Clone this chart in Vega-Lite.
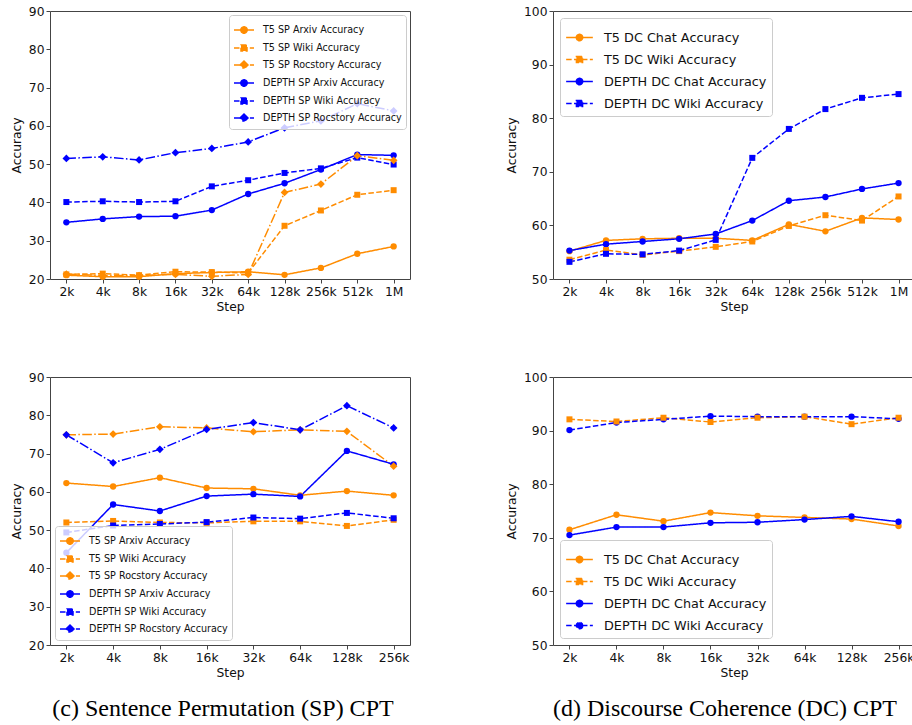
{
  "$schema": "https://vega.github.io/schema/vega-lite/v6.json",
  "padding": {"left": 9, "top": 4, "right": 0, "bottom": 0},
  "autosize": {"type": "pad"},
  "background": "white",
  "datasets": {
    "p1": [
      {"step":"2k","series":"T5 SP Arxiv Accuracy","acc":21.0},{"step":"4k","series":"T5 SP Arxiv Accuracy","acc":20.6},{"step":"8k","series":"T5 SP Arxiv Accuracy","acc":20.6},{"step":"16k","series":"T5 SP Arxiv Accuracy","acc":21.4},{"step":"32k","series":"T5 SP Arxiv Accuracy","acc":21.7},{"step":"64k","series":"T5 SP Arxiv Accuracy","acc":21.9},{"step":"128k","series":"T5 SP Arxiv Accuracy","acc":21.1},{"step":"256k","series":"T5 SP Arxiv Accuracy","acc":22.9},{"step":"512k","series":"T5 SP Arxiv Accuracy","acc":26.6},{"step":"1M","series":"T5 SP Arxiv Accuracy","acc":28.5},
      {"step":"2k","series":"T5 SP Wiki Accuracy","acc":21.2},{"step":"4k","series":"T5 SP Wiki Accuracy","acc":21.4},{"step":"8k","series":"T5 SP Wiki Accuracy","acc":21.0},{"step":"16k","series":"T5 SP Wiki Accuracy","acc":21.9},{"step":"32k","series":"T5 SP Wiki Accuracy","acc":21.8},{"step":"64k","series":"T5 SP Wiki Accuracy","acc":21.6},{"step":"128k","series":"T5 SP Wiki Accuracy","acc":33.9},{"step":"256k","series":"T5 SP Wiki Accuracy","acc":37.9},{"step":"512k","series":"T5 SP Wiki Accuracy","acc":42.0},{"step":"1M","series":"T5 SP Wiki Accuracy","acc":43.2},
      {"step":"2k","series":"T5 SP Rocstory Accuracy","acc":21.3},{"step":"4k","series":"T5 SP Rocstory Accuracy","acc":20.9},{"step":"8k","series":"T5 SP Rocstory Accuracy","acc":20.9},{"step":"16k","series":"T5 SP Rocstory Accuracy","acc":21.2},{"step":"32k","series":"T5 SP Rocstory Accuracy","acc":20.7},{"step":"64k","series":"T5 SP Rocstory Accuracy","acc":21.2},{"step":"128k","series":"T5 SP Rocstory Accuracy","acc":42.6},{"step":"256k","series":"T5 SP Rocstory Accuracy","acc":44.8},{"step":"512k","series":"T5 SP Rocstory Accuracy","acc":52.2},{"step":"1M","series":"T5 SP Rocstory Accuracy","acc":51.0},
      {"step":"2k","series":"DEPTH SP Arxiv Accuracy","acc":34.8},{"step":"4k","series":"DEPTH SP Arxiv Accuracy","acc":35.7},{"step":"8k","series":"DEPTH SP Arxiv Accuracy","acc":36.3},{"step":"16k","series":"DEPTH SP Arxiv Accuracy","acc":36.4},{"step":"32k","series":"DEPTH SP Arxiv Accuracy","acc":38.0},{"step":"64k","series":"DEPTH SP Arxiv Accuracy","acc":42.2},{"step":"128k","series":"DEPTH SP Arxiv Accuracy","acc":45.0},{"step":"256k","series":"DEPTH SP Arxiv Accuracy","acc":48.6},{"step":"512k","series":"DEPTH SP Arxiv Accuracy","acc":52.5},{"step":"1M","series":"DEPTH SP Arxiv Accuracy","acc":52.3},
      {"step":"2k","series":"DEPTH SP Wiki Accuracy","acc":40.1},{"step":"4k","series":"DEPTH SP Wiki Accuracy","acc":40.3},{"step":"8k","series":"DEPTH SP Wiki Accuracy","acc":40.1},{"step":"16k","series":"DEPTH SP Wiki Accuracy","acc":40.3},{"step":"32k","series":"DEPTH SP Wiki Accuracy","acc":44.2},{"step":"64k","series":"DEPTH SP Wiki Accuracy","acc":45.8},{"step":"128k","series":"DEPTH SP Wiki Accuracy","acc":47.7},{"step":"256k","series":"DEPTH SP Wiki Accuracy","acc":48.9},{"step":"512k","series":"DEPTH SP Wiki Accuracy","acc":51.7},{"step":"1M","series":"DEPTH SP Wiki Accuracy","acc":49.9},
      {"step":"2k","series":"DEPTH SP Rocstory Accuracy","acc":51.5},{"step":"4k","series":"DEPTH SP Rocstory Accuracy","acc":51.9},{"step":"8k","series":"DEPTH SP Rocstory Accuracy","acc":51.1},{"step":"16k","series":"DEPTH SP Rocstory Accuracy","acc":53.0},{"step":"32k","series":"DEPTH SP Rocstory Accuracy","acc":54.1},{"step":"64k","series":"DEPTH SP Rocstory Accuracy","acc":55.8},{"step":"128k","series":"DEPTH SP Rocstory Accuracy","acc":59.5},{"step":"256k","series":"DEPTH SP Rocstory Accuracy","acc":61.3},{"step":"512k","series":"DEPTH SP Rocstory Accuracy","acc":65.8},{"step":"1M","series":"DEPTH SP Rocstory Accuracy","acc":63.9}
    ],
    "p2": [
      {"step":"2k","series":"T5 DC Chat Accuracy","acc":55.2},{"step":"4k","series":"T5 DC Chat Accuracy","acc":57.2},{"step":"8k","series":"T5 DC Chat Accuracy","acc":57.5},{"step":"16k","series":"T5 DC Chat Accuracy","acc":57.6},{"step":"32k","series":"T5 DC Chat Accuracy","acc":57.6},{"step":"64k","series":"T5 DC Chat Accuracy","acc":57.2},{"step":"128k","series":"T5 DC Chat Accuracy","acc":60.2},{"step":"256k","series":"T5 DC Chat Accuracy","acc":58.9},{"step":"512k","series":"T5 DC Chat Accuracy","acc":61.4},{"step":"1M","series":"T5 DC Chat Accuracy","acc":61.1},
      {"step":"2k","series":"T5 DC Wiki Accuracy","acc":53.6},{"step":"4k","series":"T5 DC Wiki Accuracy","acc":55.4},{"step":"8k","series":"T5 DC Wiki Accuracy","acc":54.5},{"step":"16k","series":"T5 DC Wiki Accuracy","acc":55.2},{"step":"32k","series":"T5 DC Wiki Accuracy","acc":56.0},{"step":"64k","series":"T5 DC Wiki Accuracy","acc":57.0},{"step":"128k","series":"T5 DC Wiki Accuracy","acc":59.9},{"step":"256k","series":"T5 DC Wiki Accuracy","acc":61.9},{"step":"512k","series":"T5 DC Wiki Accuracy","acc":60.9},{"step":"1M","series":"T5 DC Wiki Accuracy","acc":65.4},
      {"step":"2k","series":"DEPTH DC Chat Accuracy","acc":55.3},{"step":"4k","series":"DEPTH DC Chat Accuracy","acc":56.5},{"step":"8k","series":"DEPTH DC Chat Accuracy","acc":57.0},{"step":"16k","series":"DEPTH DC Chat Accuracy","acc":57.5},{"step":"32k","series":"DEPTH DC Chat Accuracy","acc":58.4},{"step":"64k","series":"DEPTH DC Chat Accuracy","acc":60.9},{"step":"128k","series":"DEPTH DC Chat Accuracy","acc":64.6},{"step":"256k","series":"DEPTH DC Chat Accuracy","acc":65.3},{"step":"512k","series":"DEPTH DC Chat Accuracy","acc":66.8},{"step":"1M","series":"DEPTH DC Chat Accuracy","acc":67.9},
      {"step":"2k","series":"DEPTH DC Wiki Accuracy","acc":53.2},{"step":"4k","series":"DEPTH DC Wiki Accuracy","acc":54.7},{"step":"8k","series":"DEPTH DC Wiki Accuracy","acc":54.6},{"step":"16k","series":"DEPTH DC Wiki Accuracy","acc":55.3},{"step":"32k","series":"DEPTH DC Wiki Accuracy","acc":57.3},{"step":"64k","series":"DEPTH DC Wiki Accuracy","acc":72.6},{"step":"128k","series":"DEPTH DC Wiki Accuracy","acc":78.0},{"step":"256k","series":"DEPTH DC Wiki Accuracy","acc":81.7},{"step":"512k","series":"DEPTH DC Wiki Accuracy","acc":83.8},{"step":"1M","series":"DEPTH DC Wiki Accuracy","acc":84.5}
    ],
    "p3": [
      {"step":"2k","series":"T5 SP Arxiv Accuracy","acc":62.3},{"step":"4k","series":"T5 SP Arxiv Accuracy","acc":61.4},{"step":"8k","series":"T5 SP Arxiv Accuracy","acc":63.7},{"step":"16k","series":"T5 SP Arxiv Accuracy","acc":61.0},{"step":"32k","series":"T5 SP Arxiv Accuracy","acc":60.8},{"step":"64k","series":"T5 SP Arxiv Accuracy","acc":59.1},{"step":"128k","series":"T5 SP Arxiv Accuracy","acc":60.2},{"step":"256k","series":"T5 SP Arxiv Accuracy","acc":59.1},
      {"step":"2k","series":"T5 SP Wiki Accuracy","acc":52.0},{"step":"4k","series":"T5 SP Wiki Accuracy","acc":52.4},{"step":"8k","series":"T5 SP Wiki Accuracy","acc":52.0},{"step":"16k","series":"T5 SP Wiki Accuracy","acc":51.9},{"step":"32k","series":"T5 SP Wiki Accuracy","acc":52.3},{"step":"64k","series":"T5 SP Wiki Accuracy","acc":52.3},{"step":"128k","series":"T5 SP Wiki Accuracy","acc":51.1},{"step":"256k","series":"T5 SP Wiki Accuracy","acc":52.7},
      {"step":"2k","series":"T5 SP Rocstory Accuracy","acc":74.9},{"step":"4k","series":"T5 SP Rocstory Accuracy","acc":75.1},{"step":"8k","series":"T5 SP Rocstory Accuracy","acc":77.0},{"step":"16k","series":"T5 SP Rocstory Accuracy","acc":76.7},{"step":"32k","series":"T5 SP Rocstory Accuracy","acc":75.7},{"step":"64k","series":"T5 SP Rocstory Accuracy","acc":76.2},{"step":"128k","series":"T5 SP Rocstory Accuracy","acc":75.8},{"step":"256k","series":"T5 SP Rocstory Accuracy","acc":66.7},
      {"step":"2k","series":"DEPTH SP Arxiv Accuracy","acc":44.1},{"step":"4k","series":"DEPTH SP Arxiv Accuracy","acc":56.7},{"step":"8k","series":"DEPTH SP Arxiv Accuracy","acc":55.0},{"step":"16k","series":"DEPTH SP Arxiv Accuracy","acc":58.9},{"step":"32k","series":"DEPTH SP Arxiv Accuracy","acc":59.4},{"step":"64k","series":"DEPTH SP Arxiv Accuracy","acc":58.8},{"step":"128k","series":"DEPTH SP Arxiv Accuracy","acc":70.7},{"step":"256k","series":"DEPTH SP Arxiv Accuracy","acc":67.2},
      {"step":"2k","series":"DEPTH SP Wiki Accuracy","acc":49.4},{"step":"4k","series":"DEPTH SP Wiki Accuracy","acc":51.2},{"step":"8k","series":"DEPTH SP Wiki Accuracy","acc":51.6},{"step":"16k","series":"DEPTH SP Wiki Accuracy","acc":52.1},{"step":"32k","series":"DEPTH SP Wiki Accuracy","acc":53.3},{"step":"64k","series":"DEPTH SP Wiki Accuracy","acc":53.0},{"step":"128k","series":"DEPTH SP Wiki Accuracy","acc":54.5},{"step":"256k","series":"DEPTH SP Wiki Accuracy","acc":53.1},
      {"step":"2k","series":"DEPTH SP Rocstory Accuracy","acc":74.9},{"step":"4k","series":"DEPTH SP Rocstory Accuracy","acc":67.6},{"step":"8k","series":"DEPTH SP Rocstory Accuracy","acc":71.1},{"step":"16k","series":"DEPTH SP Rocstory Accuracy","acc":76.3},{"step":"32k","series":"DEPTH SP Rocstory Accuracy","acc":78.1},{"step":"64k","series":"DEPTH SP Rocstory Accuracy","acc":76.2},{"step":"128k","series":"DEPTH SP Rocstory Accuracy","acc":82.5},{"step":"256k","series":"DEPTH SP Rocstory Accuracy","acc":76.7}
    ],
    "p4": [
      {"step":"2k","series":"T5 DC Chat Accuracy","acc":71.5},{"step":"4k","series":"T5 DC Chat Accuracy","acc":74.3},{"step":"8k","series":"T5 DC Chat Accuracy","acc":73.1},{"step":"16k","series":"T5 DC Chat Accuracy","acc":74.7},{"step":"32k","series":"T5 DC Chat Accuracy","acc":74.1},{"step":"64k","series":"T5 DC Chat Accuracy","acc":73.8},{"step":"128k","series":"T5 DC Chat Accuracy","acc":73.5},{"step":"256k","series":"T5 DC Chat Accuracy","acc":72.2},
      {"step":"2k","series":"T5 DC Wiki Accuracy","acc":92.1},{"step":"4k","series":"T5 DC Wiki Accuracy","acc":91.7},{"step":"8k","series":"T5 DC Wiki Accuracy","acc":92.4},{"step":"16k","series":"T5 DC Wiki Accuracy","acc":91.6},{"step":"32k","series":"T5 DC Wiki Accuracy","acc":92.4},{"step":"64k","series":"T5 DC Wiki Accuracy","acc":92.6},{"step":"128k","series":"T5 DC Wiki Accuracy","acc":91.2},{"step":"256k","series":"T5 DC Wiki Accuracy","acc":92.4},
      {"step":"2k","series":"DEPTH DC Chat Accuracy","acc":70.5},{"step":"4k","series":"DEPTH DC Chat Accuracy","acc":72.0},{"step":"8k","series":"DEPTH DC Chat Accuracy","acc":72.0},{"step":"16k","series":"DEPTH DC Chat Accuracy","acc":72.8},{"step":"32k","series":"DEPTH DC Chat Accuracy","acc":72.9},{"step":"64k","series":"DEPTH DC Chat Accuracy","acc":73.4},{"step":"128k","series":"DEPTH DC Chat Accuracy","acc":74.0},{"step":"256k","series":"DEPTH DC Chat Accuracy","acc":73.0},
      {"step":"2k","series":"DEPTH DC Wiki Accuracy","acc":90.1},{"step":"4k","series":"DEPTH DC Wiki Accuracy","acc":91.5},{"step":"8k","series":"DEPTH DC Wiki Accuracy","acc":92.1},{"step":"16k","series":"DEPTH DC Wiki Accuracy","acc":92.7},{"step":"32k","series":"DEPTH DC Wiki Accuracy","acc":92.6},{"step":"64k","series":"DEPTH DC Wiki Accuracy","acc":92.6},{"step":"128k","series":"DEPTH DC Wiki Accuracy","acc":92.6},{"step":"256k","series":"DEPTH DC Wiki Accuracy","acc":92.2}
    ]
  },
  "columns": 2,
  "spacing": {"row": 56, "column": 94},
  "resolve": {
    "scale": {"x": "independent", "y": "independent", "color": "independent", "fill": "independent", "stroke": "independent", "strokeDash": "independent", "shape": "independent"},
    "legend": {"color": "independent", "fill": "independent", "stroke": "independent", "strokeDash": "independent", "shape": "independent"}
  },
  "concat": [
    {
      "width": 360, "height": 268,
      "data": {"name": "p1"},
      "encoding": {
        "x": {"field": "step", "type": "ordinal", "scale": {"type": "point", "domain": ["2k","4k","8k","16k","32k","64k","128k","256k","512k","1M"], "padding": 0.45}, "axis": {"title": "Step", "labelAngle": 0}},
        "y": {"field": "acc", "type": "quantitative", "scale": {"domain": [20, 90], "nice": false, "zero": false}, "axis": {"title": "Accuracy", "values": [20,30,40,50,60,70,80,90]}}
      },
      "layer": [
        {
          "transform": [{"filter": "false"}],
          "mark": {"type": "point", "filled": true, "opacity": 1, "strokeWidth": 1.5},
          "encoding": {
            "fill": {"field": "series", "type": "nominal", "scale": {"domain": ["T5 SP Arxiv Accuracy","T5 SP Wiki Accuracy","T5 SP Rocstory Accuracy","DEPTH SP Arxiv Accuracy","DEPTH SP Wiki Accuracy","DEPTH SP Rocstory Accuracy"], "range": ["#ff8c00","#ff8c00","#ff8c00","#0000ff","#0000ff","#0000ff"]},
              "legend": {"title": null, "orient": "top-right", "offset": 4, "padding": 4, "rowPadding": -4, "labelFontSize": 9.6, "labelFont": "DejaVu Sans", "labelColor": "#111", "labelLimit": 400, "symbolSize": 400, "symbolStrokeWidth": 1.5, "symbolOpacity": 1, "labelOffset": 8, "strokeColor": "#cccccc", "fillColor": "rgba(255,255,255,0.8)", "cornerRadius": 3}},
            "stroke": {"field": "series", "type": "nominal", "scale": {"domain": ["T5 SP Arxiv Accuracy","T5 SP Wiki Accuracy","T5 SP Rocstory Accuracy","DEPTH SP Arxiv Accuracy","DEPTH SP Wiki Accuracy","DEPTH SP Rocstory Accuracy"], "range": ["#ff8c00","#ff8c00","#ff8c00","#0000ff","#0000ff","#0000ff"]},
              "legend": {"title": null, "orient": "top-right", "offset": 4, "padding": 4, "rowPadding": -4, "labelFontSize": 9.6, "labelFont": "DejaVu Sans", "labelColor": "#111", "labelLimit": 400, "symbolSize": 400, "symbolStrokeWidth": 1.5, "symbolOpacity": 1, "labelOffset": 8, "strokeColor": "#cccccc", "fillColor": "rgba(255,255,255,0.8)", "cornerRadius": 3}},
            "shape": {"field": "series", "type": "nominal", "scale": {"domain": ["T5 SP Arxiv Accuracy","T5 SP Wiki Accuracy","T5 SP Rocstory Accuracy","DEPTH SP Arxiv Accuracy","DEPTH SP Wiki Accuracy","DEPTH SP Rocstory Accuracy"], "range": ["M-1,0H1M0.32,0A0.32,0.32,0,1,1,-0.32,0A0.32,0.32,0,1,1,0.32,0Z","M-1,0H1M-0.3,-0.3H0.3V0.3H-0.3Z","M-1,0H1M0,-0.4L0.4,0L0,0.4L-0.4,0Z","M-1,0H1M0.32,0A0.32,0.32,0,1,1,-0.32,0A0.32,0.32,0,1,1,0.32,0Z","M-1,0H1M-0.3,-0.3H0.3V0.3H-0.3Z","M-1,0H1M0,-0.4L0.4,0L0,0.4L-0.4,0Z"]},
              "legend": {"title": null, "orient": "top-right", "offset": 4, "padding": 4, "rowPadding": -4, "labelFontSize": 9.6, "labelFont": "DejaVu Sans", "labelColor": "#111", "labelLimit": 400, "symbolSize": 400, "symbolStrokeWidth": 1.5, "symbolOpacity": 1, "labelOffset": 8, "strokeColor": "#cccccc", "fillColor": "rgba(255,255,255,0.8)", "cornerRadius": 3}},
            "strokeDash": {"field": "series", "type": "nominal", "scale": {"domain": ["T5 SP Arxiv Accuracy","T5 SP Wiki Accuracy","T5 SP Rocstory Accuracy","DEPTH SP Arxiv Accuracy","DEPTH SP Wiki Accuracy","DEPTH SP Rocstory Accuracy"], "range": [[1,0],[5.5,2.4],[9.6,2.4,1.5,2.4],[1,0],[5.5,2.4],[9.6,2.4,1.5,2.4]]},
              "legend": {"title": null, "orient": "top-right", "offset": 4, "padding": 4, "rowPadding": -4, "labelFontSize": 9.6, "labelFont": "DejaVu Sans", "labelColor": "#111", "labelLimit": 400, "symbolSize": 400, "symbolStrokeWidth": 1.5, "symbolOpacity": 1, "labelOffset": 8, "strokeColor": "#cccccc", "fillColor": "rgba(255,255,255,0.8)", "cornerRadius": 3}}
          }
        },
        {
          "mark": {"type": "line", "strokeWidth": 1.5},
          "encoding": {
            "color": {"field": "series", "type": "nominal", "scale": {"domain": ["T5 SP Arxiv Accuracy","T5 SP Wiki Accuracy","T5 SP Rocstory Accuracy","DEPTH SP Arxiv Accuracy","DEPTH SP Wiki Accuracy","DEPTH SP Rocstory Accuracy"], "range": ["#ff8c00","#ff8c00","#ff8c00","#0000ff","#0000ff","#0000ff"]}, "legend": null},
            "strokeDash": {"field": "series", "type": "nominal", "legend": null}
          }
        },
        {"transform": [{"filter": "indexof(datum.series,'Arxiv')>=0"}], "mark": {"type": "point", "filled": true, "opacity": 1, "shape": "circle", "size": 40}, "encoding": {"color": {"field": "series", "type": "nominal", "legend": null}}},
        {"transform": [{"filter": "indexof(datum.series,'Wiki')>=0"}], "mark": {"type": "point", "filled": true, "opacity": 1, "shape": "square", "size": 36}, "encoding": {"color": {"field": "series", "type": "nominal", "legend": null}}},
        {"transform": [{"filter": "indexof(datum.series,'Rocstory')>=0"}], "mark": {"type": "point", "filled": true, "opacity": 1, "shape": "diamond", "size": 60}, "encoding": {"color": {"field": "series", "type": "nominal", "legend": null}}}
      ]
    },
    {
      "width": 362, "height": 268,
      "data": {"name": "p2"},
      "encoding": {
        "x": {"field": "step", "type": "ordinal", "scale": {"type": "point", "domain": ["2k","4k","8k","16k","32k","64k","128k","256k","512k","1M"], "padding": 0.45}, "axis": {"title": "Step", "labelAngle": 0}},
        "y": {"field": "acc", "type": "quantitative", "scale": {"domain": [50, 100], "nice": false, "zero": false}, "axis": {"title": "Accuracy", "values": [50,60,70,80,90,100]}}
      },
      "layer": [
        {
          "transform": [{"filter": "false"}],
          "mark": {"type": "point", "filled": true, "opacity": 1, "strokeWidth": 1.5},
          "encoding": {
            "fill": {"field": "series", "type": "nominal", "scale": {"domain": ["T5 DC Chat Accuracy","T5 DC Wiki Accuracy","DEPTH DC Chat Accuracy","DEPTH DC Wiki Accuracy"], "range": ["#ff8c00","#ff8c00","#0000ff","#0000ff"]},
              "legend": {"title": null, "orient": "top-left", "offset": 7, "padding": 5, "rowPadding": -2.3, "labelFontSize": 12.8, "labelFont": "DejaVu Sans", "labelColor": "#111", "labelLimit": 400, "symbolSize": 713, "symbolStrokeWidth": 1.5, "symbolOpacity": 1, "labelOffset": 10, "strokeColor": "#cccccc", "fillColor": "rgba(255,255,255,0.8)", "cornerRadius": 3}},
            "stroke": {"field": "series", "type": "nominal", "scale": {"domain": ["T5 DC Chat Accuracy","T5 DC Wiki Accuracy","DEPTH DC Chat Accuracy","DEPTH DC Wiki Accuracy"], "range": ["#ff8c00","#ff8c00","#0000ff","#0000ff"]},
              "legend": {"title": null, "orient": "top-left", "offset": 7, "padding": 5, "rowPadding": -2.3, "labelFontSize": 12.8, "labelFont": "DejaVu Sans", "labelColor": "#111", "labelLimit": 400, "symbolSize": 713, "symbolStrokeWidth": 1.5, "symbolOpacity": 1, "labelOffset": 10, "strokeColor": "#cccccc", "fillColor": "rgba(255,255,255,0.8)", "cornerRadius": 3}},
            "shape": {"field": "series", "type": "nominal", "scale": {"domain": ["T5 DC Chat Accuracy","T5 DC Wiki Accuracy","DEPTH DC Chat Accuracy","DEPTH DC Wiki Accuracy"], "range": ["M-1,0H1M0.24,0A0.24,0.24,0,1,1,-0.24,0A0.24,0.24,0,1,1,0.24,0Z","M-1,0H1M-0.23,-0.23H0.23V0.23H-0.23Z","M-1,0H1M0.24,0A0.24,0.24,0,1,1,-0.24,0A0.24,0.24,0,1,1,0.24,0Z","M-1,0H1M-0.23,-0.23H0.23V0.23H-0.23Z"]},
              "legend": {"title": null, "orient": "top-left", "offset": 7, "padding": 5, "rowPadding": -2.3, "labelFontSize": 12.8, "labelFont": "DejaVu Sans", "labelColor": "#111", "labelLimit": 400, "symbolSize": 713, "symbolStrokeWidth": 1.5, "symbolOpacity": 1, "labelOffset": 10, "strokeColor": "#cccccc", "fillColor": "rgba(255,255,255,0.8)", "cornerRadius": 3}},
            "strokeDash": {"field": "series", "type": "nominal", "scale": {"domain": ["T5 DC Chat Accuracy","T5 DC Wiki Accuracy","DEPTH DC Chat Accuracy","DEPTH DC Wiki Accuracy"], "range": [[1,0],[5.5,2.4],[1,0],[5.5,2.4]]},
              "legend": {"title": null, "orient": "top-left", "offset": 7, "padding": 5, "rowPadding": -2.3, "labelFontSize": 12.8, "labelFont": "DejaVu Sans", "labelColor": "#111", "labelLimit": 400, "symbolSize": 713, "symbolStrokeWidth": 1.5, "symbolOpacity": 1, "labelOffset": 10, "strokeColor": "#cccccc", "fillColor": "rgba(255,255,255,0.8)", "cornerRadius": 3}}
          }
        },
        {
          "mark": {"type": "line", "strokeWidth": 1.5},
          "encoding": {
            "color": {"field": "series", "type": "nominal", "scale": {"domain": ["T5 DC Chat Accuracy","T5 DC Wiki Accuracy","DEPTH DC Chat Accuracy","DEPTH DC Wiki Accuracy"], "range": ["#ff8c00","#ff8c00","#0000ff","#0000ff"]}, "legend": null},
            "strokeDash": {"field": "series", "type": "nominal", "legend": null}
          }
        },
        {"transform": [{"filter": "indexof(datum.series,'Chat')>=0"}], "mark": {"type": "point", "filled": true, "opacity": 1, "shape": "circle", "size": 40}, "encoding": {"color": {"field": "series", "type": "nominal", "legend": null}}},
        {"transform": [{"filter": "indexof(datum.series,'Wiki')>=0"}], "mark": {"type": "point", "filled": true, "opacity": 1, "shape": "square", "size": 36}, "encoding": {"color": {"field": "series", "type": "nominal", "legend": null}}}
      ]
    },
    {
      "width": 360, "height": 268,
      "data": {"name": "p3"},
      "title": {"text": "(c) Sentence Permutation (SP) CPT", "orient": "bottom", "font": "Liberation Serif", "fontSize": 24, "fontWeight": "normal", "color": "#000", "offset": 18, "anchor": "middle", "frame": "group", "dx": -7},
      "encoding": {
        "x": {"field": "step", "type": "ordinal", "scale": {"type": "point", "domain": ["2k","4k","8k","16k","32k","64k","128k","256k"], "padding": 0.35}, "axis": {"title": "Step", "labelAngle": 0}},
        "y": {"field": "acc", "type": "quantitative", "scale": {"domain": [20, 90], "nice": false, "zero": false}, "axis": {"title": "Accuracy", "values": [20,30,40,50,60,70,80,90]}}
      },
      "layer": [
        {
          "transform": [{"filter": "false"}],
          "mark": {"type": "point", "filled": true, "opacity": 1, "strokeWidth": 1.5},
          "encoding": {
            "fill": {"field": "series", "type": "nominal", "scale": {"domain": ["T5 SP Arxiv Accuracy","T5 SP Wiki Accuracy","T5 SP Rocstory Accuracy","DEPTH SP Arxiv Accuracy","DEPTH SP Wiki Accuracy","DEPTH SP Rocstory Accuracy"], "range": ["#ff8c00","#ff8c00","#ff8c00","#0000ff","#0000ff","#0000ff"]},
              "legend": {"title": null, "orient": "bottom-left", "offset": 5, "padding": 4, "rowPadding": -4, "labelFontSize": 9.6, "labelFont": "DejaVu Sans", "labelColor": "#111", "labelLimit": 400, "symbolSize": 400, "symbolStrokeWidth": 1.5, "symbolOpacity": 1, "labelOffset": 8, "strokeColor": "#cccccc", "fillColor": "rgba(255,255,255,0.8)", "cornerRadius": 3}},
            "stroke": {"field": "series", "type": "nominal", "scale": {"domain": ["T5 SP Arxiv Accuracy","T5 SP Wiki Accuracy","T5 SP Rocstory Accuracy","DEPTH SP Arxiv Accuracy","DEPTH SP Wiki Accuracy","DEPTH SP Rocstory Accuracy"], "range": ["#ff8c00","#ff8c00","#ff8c00","#0000ff","#0000ff","#0000ff"]},
              "legend": {"title": null, "orient": "bottom-left", "offset": 5, "padding": 4, "rowPadding": -4, "labelFontSize": 9.6, "labelFont": "DejaVu Sans", "labelColor": "#111", "labelLimit": 400, "symbolSize": 400, "symbolStrokeWidth": 1.5, "symbolOpacity": 1, "labelOffset": 8, "strokeColor": "#cccccc", "fillColor": "rgba(255,255,255,0.8)", "cornerRadius": 3}},
            "shape": {"field": "series", "type": "nominal", "scale": {"domain": ["T5 SP Arxiv Accuracy","T5 SP Wiki Accuracy","T5 SP Rocstory Accuracy","DEPTH SP Arxiv Accuracy","DEPTH SP Wiki Accuracy","DEPTH SP Rocstory Accuracy"], "range": ["M-1,0H1M0.32,0A0.32,0.32,0,1,1,-0.32,0A0.32,0.32,0,1,1,0.32,0Z","M-1,0H1M-0.3,-0.3H0.3V0.3H-0.3Z","M-1,0H1M0,-0.4L0.4,0L0,0.4L-0.4,0Z","M-1,0H1M0.32,0A0.32,0.32,0,1,1,-0.32,0A0.32,0.32,0,1,1,0.32,0Z","M-1,0H1M-0.3,-0.3H0.3V0.3H-0.3Z","M-1,0H1M0,-0.4L0.4,0L0,0.4L-0.4,0Z"]},
              "legend": {"title": null, "orient": "bottom-left", "offset": 5, "padding": 4, "rowPadding": -4, "labelFontSize": 9.6, "labelFont": "DejaVu Sans", "labelColor": "#111", "labelLimit": 400, "symbolSize": 400, "symbolStrokeWidth": 1.5, "symbolOpacity": 1, "labelOffset": 8, "strokeColor": "#cccccc", "fillColor": "rgba(255,255,255,0.8)", "cornerRadius": 3}},
            "strokeDash": {"field": "series", "type": "nominal", "scale": {"domain": ["T5 SP Arxiv Accuracy","T5 SP Wiki Accuracy","T5 SP Rocstory Accuracy","DEPTH SP Arxiv Accuracy","DEPTH SP Wiki Accuracy","DEPTH SP Rocstory Accuracy"], "range": [[1,0],[5.5,2.4],[9.6,2.4,1.5,2.4],[1,0],[5.5,2.4],[9.6,2.4,1.5,2.4]]},
              "legend": {"title": null, "orient": "bottom-left", "offset": 5, "padding": 4, "rowPadding": -4, "labelFontSize": 9.6, "labelFont": "DejaVu Sans", "labelColor": "#111", "labelLimit": 400, "symbolSize": 400, "symbolStrokeWidth": 1.5, "symbolOpacity": 1, "labelOffset": 8, "strokeColor": "#cccccc", "fillColor": "rgba(255,255,255,0.8)", "cornerRadius": 3}}
          }
        },
        {
          "mark": {"type": "line", "strokeWidth": 1.5},
          "encoding": {
            "color": {"field": "series", "type": "nominal", "scale": {"domain": ["T5 SP Arxiv Accuracy","T5 SP Wiki Accuracy","T5 SP Rocstory Accuracy","DEPTH SP Arxiv Accuracy","DEPTH SP Wiki Accuracy","DEPTH SP Rocstory Accuracy"], "range": ["#ff8c00","#ff8c00","#ff8c00","#0000ff","#0000ff","#0000ff"]}, "legend": null},
            "strokeDash": {"field": "series", "type": "nominal", "legend": null}
          }
        },
        {"transform": [{"filter": "indexof(datum.series,'Arxiv')>=0"}], "mark": {"type": "point", "filled": true, "opacity": 1, "shape": "circle", "size": 40}, "encoding": {"color": {"field": "series", "type": "nominal", "legend": null}}},
        {"transform": [{"filter": "indexof(datum.series,'Wiki')>=0"}], "mark": {"type": "point", "filled": true, "opacity": 1, "shape": "square", "size": 36}, "encoding": {"color": {"field": "series", "type": "nominal", "legend": null}}},
        {"transform": [{"filter": "indexof(datum.series,'Rocstory')>=0"}], "mark": {"type": "point", "filled": true, "opacity": 1, "shape": "diamond", "size": 60}, "encoding": {"color": {"field": "series", "type": "nominal", "legend": null}}}
      ]
    },
    {
      "width": 362, "height": 268,
      "data": {"name": "p4"},
      "title": {"text": "(d) Discourse Coherence (DC) CPT", "orient": "bottom", "font": "Liberation Serif", "fontSize": 24, "fontWeight": "normal", "color": "#000", "offset": 18, "anchor": "middle", "frame": "group", "dx": -9},
      "encoding": {
        "x": {"field": "step", "type": "ordinal", "scale": {"type": "point", "domain": ["2k","4k","8k","16k","32k","64k","128k","256k"], "padding": 0.35}, "axis": {"title": "Step", "labelAngle": 0}},
        "y": {"field": "acc", "type": "quantitative", "scale": {"domain": [50, 100], "nice": false, "zero": false}, "axis": {"title": "Accuracy", "values": [50,60,70,80,90,100]}}
      },
      "layer": [
        {
          "transform": [{"filter": "false"}],
          "mark": {"type": "point", "filled": true, "opacity": 1, "strokeWidth": 1.5},
          "encoding": {
            "fill": {"field": "series", "type": "nominal", "scale": {"domain": ["T5 DC Chat Accuracy","T5 DC Wiki Accuracy","DEPTH DC Chat Accuracy","DEPTH DC Wiki Accuracy"], "range": ["#ff8c00","#ff8c00","#0000ff","#0000ff"]},
              "legend": {"title": null, "orient": "bottom-left", "offset": 7, "padding": 5, "rowPadding": -2.3, "labelFontSize": 12.8, "labelFont": "DejaVu Sans", "labelColor": "#111", "labelLimit": 400, "symbolSize": 713, "symbolStrokeWidth": 1.5, "symbolOpacity": 1, "labelOffset": 10, "strokeColor": "#cccccc", "fillColor": "rgba(255,255,255,0.8)", "cornerRadius": 3}},
            "stroke": {"field": "series", "type": "nominal", "scale": {"domain": ["T5 DC Chat Accuracy","T5 DC Wiki Accuracy","DEPTH DC Chat Accuracy","DEPTH DC Wiki Accuracy"], "range": ["#ff8c00","#ff8c00","#0000ff","#0000ff"]},
              "legend": {"title": null, "orient": "bottom-left", "offset": 7, "padding": 5, "rowPadding": -2.3, "labelFontSize": 12.8, "labelFont": "DejaVu Sans", "labelColor": "#111", "labelLimit": 400, "symbolSize": 713, "symbolStrokeWidth": 1.5, "symbolOpacity": 1, "labelOffset": 10, "strokeColor": "#cccccc", "fillColor": "rgba(255,255,255,0.8)", "cornerRadius": 3}},
            "shape": {"field": "series", "type": "nominal", "scale": {"domain": ["T5 DC Chat Accuracy","T5 DC Wiki Accuracy","DEPTH DC Chat Accuracy","DEPTH DC Wiki Accuracy"], "range": ["M-1,0H1M0.24,0A0.24,0.24,0,1,1,-0.24,0A0.24,0.24,0,1,1,0.24,0Z","M-1,0H1M-0.23,-0.23H0.23V0.23H-0.23Z","M-1,0H1M0.24,0A0.24,0.24,0,1,1,-0.24,0A0.24,0.24,0,1,1,0.24,0Z","M-1,0H1M0.24,0A0.24,0.24,0,1,1,-0.24,0A0.24,0.24,0,1,1,0.24,0Z"]},
              "legend": {"title": null, "orient": "bottom-left", "offset": 7, "padding": 5, "rowPadding": -2.3, "labelFontSize": 12.8, "labelFont": "DejaVu Sans", "labelColor": "#111", "labelLimit": 400, "symbolSize": 713, "symbolStrokeWidth": 1.5, "symbolOpacity": 1, "labelOffset": 10, "strokeColor": "#cccccc", "fillColor": "rgba(255,255,255,0.8)", "cornerRadius": 3}},
            "strokeDash": {"field": "series", "type": "nominal", "scale": {"domain": ["T5 DC Chat Accuracy","T5 DC Wiki Accuracy","DEPTH DC Chat Accuracy","DEPTH DC Wiki Accuracy"], "range": [[1,0],[5.5,2.4],[1,0],[5.5,2.4]]},
              "legend": {"title": null, "orient": "bottom-left", "offset": 7, "padding": 5, "rowPadding": -2.3, "labelFontSize": 12.8, "labelFont": "DejaVu Sans", "labelColor": "#111", "labelLimit": 400, "symbolSize": 713, "symbolStrokeWidth": 1.5, "symbolOpacity": 1, "labelOffset": 10, "strokeColor": "#cccccc", "fillColor": "rgba(255,255,255,0.8)", "cornerRadius": 3}}
          }
        },
        {
          "mark": {"type": "line", "strokeWidth": 1.5},
          "encoding": {
            "color": {"field": "series", "type": "nominal", "scale": {"domain": ["T5 DC Chat Accuracy","T5 DC Wiki Accuracy","DEPTH DC Chat Accuracy","DEPTH DC Wiki Accuracy"], "range": ["#ff8c00","#ff8c00","#0000ff","#0000ff"]}, "legend": null},
            "strokeDash": {"field": "series", "type": "nominal", "legend": null}
          }
        },
        {"transform": [{"filter": "datum.series !== 'T5 DC Wiki Accuracy'"}], "mark": {"type": "point", "filled": true, "opacity": 1, "shape": "circle", "size": 40}, "encoding": {"color": {"field": "series", "type": "nominal", "legend": null}}},
        {"transform": [{"filter": "datum.series === 'T5 DC Wiki Accuracy'"}], "mark": {"type": "point", "filled": true, "opacity": 1, "shape": "square", "size": 36}, "encoding": {"color": {"field": "series", "type": "nominal", "legend": null}}}
      ]
    }
  ],
  "config": {
    "font": "DejaVu Sans",
    "view": {"stroke": "#444444", "strokeWidth": 1},
    "axis": {"domain": false, "grid": false, "ticks": true, "tickColor": "#444444", "tickSize": 4, "labelFont": "DejaVu Sans", "labelFontSize": 12.3, "labelColor": "#111111", "titleFont": "DejaVu Sans", "titleFontSize": 12.3, "titleFontWeight": "normal", "titleColor": "#111111", "labelPadding": 2, "titlePadding": 3},
    "axisY": {"titlePadding": 5}
  }
}
